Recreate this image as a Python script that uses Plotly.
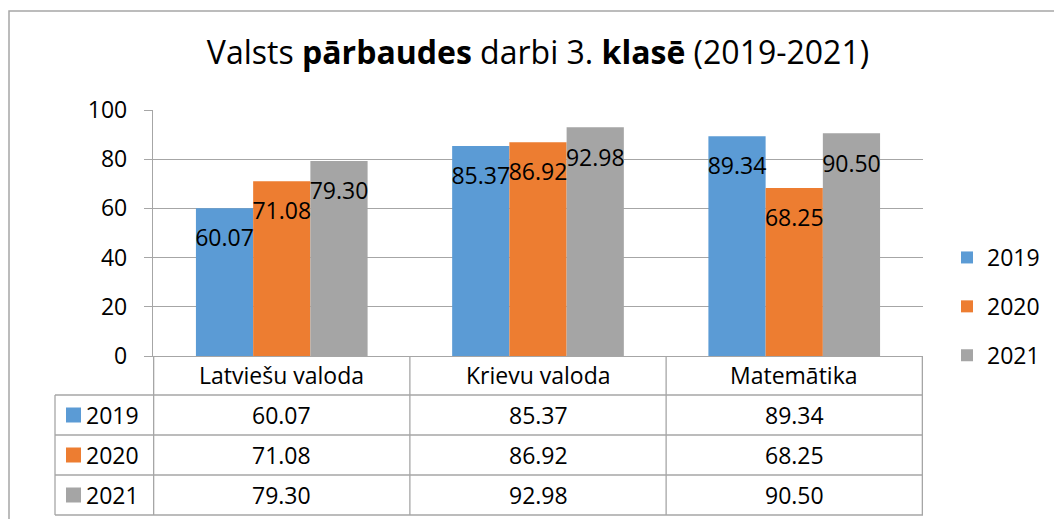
import plotly.graph_objects as go

# ---- data ----
categories = ["Latviešu valoda", "Krievu valoda", "Matemātika"]
years = ["2019", "2020", "2021"]
values_2019 = [60.07, 85.37, 89.34]
values_2020 = [71.08, 86.92, 68.25]
values_2021 = [79.30, 92.98, 90.50]
series = [values_2019, values_2020, values_2021]
colors = ["#5B9BD5", "#ED7D31", "#A5A5A5"]
y_ticks = [0, 20, 40, 60, 80, 100]

FONT = "Open Sans"
W, H = 1054, 519
L, R, T, B = 153, 131, 110, 163
PW = W - L - R
PH = H - T - B
GRID = "#A6A6A6"


def px_x(p):
    return (p - L) / PW


def px_y(p):
    return (T + PH - p) / PH


fig = go.Figure()
for i, (yr, vals, col) in enumerate(zip(years, series, colors)):
    fig.add_trace(go.Bar(
        x=categories, y=vals, name=yr, marker=dict(color=col, line=dict(width=0)),
        offsetgroup=str(i), legendgroup=yr, hoverinfo="skip",
    ))
for i, (yr, vals) in enumerate(zip(years, series)):
    fig.add_trace(go.Scatter(
        x=categories, y=vals, mode="markers+text", offsetgroup=str(i),
        text=[f"{v:.2f}" for v in vals], textposition="bottom center",
        textfont=dict(family=FONT, size=23, color="#000000"),
        marker=dict(size=32, opacity=0), showlegend=False, hoverinfo="skip",
        cliponaxis=False,
    ))

shapes = []
annotations = []
# outer frame
shapes.append(dict(type="rect", xref="paper", yref="paper",
                   x0=px_x(9), x1=px_x(1070), y0=px_y(11), y1=px_y(540),
                   line=dict(color=GRID, width=1.5), layer="below"))

# data table
axis_bottom = T + PH
header_bottom = axis_bottom + 39
row_h = 40
rows_bottom = [header_bottom + row_h * (k + 1) for k in range(len(years))]
table_left = 55
# horizontal lines
for yy in [header_bottom] + rows_bottom:
    shapes.append(dict(type="line", xref="paper", yref="paper",
                       x0=px_x(table_left), x1=1.0, y0=px_y(yy), y1=px_y(yy),
                       line=dict(color=GRID, width=1.3)))
# vertical lines
shapes.append(dict(type="line", xref="paper", yref="paper",
                   x0=px_x(table_left), x1=px_x(table_left),
                   y0=px_y(header_bottom), y1=px_y(rows_bottom[-1]),
                   line=dict(color=GRID, width=1.3)))
for b in [k - 0.5 for k in range(len(categories) + 1)]:
    shapes.append(dict(type="line", xref="x", yref="paper", x0=b, x1=b,
                       y0=0, y1=px_y(rows_bottom[-1]),
                       line=dict(color=GRID, width=1.3)))

# table rows
for r, (yr, vals, col) in enumerate(zip(years, series, colors)):
    cy = rows_bottom[r] - row_h / 2
    shapes.append(dict(type="rect", xref="paper", yref="paper",
                       x0=px_x(66), x1=px_x(81), y0=px_y(cy - 7.5), y1=px_y(cy + 7.5),
                       fillcolor=col, line=dict(width=0)))
    annotations.append(dict(text=yr, xref="paper", yref="paper", x=px_x(84), y=px_y(cy),
                            xanchor="left", yanchor="middle", showarrow=False,
                            font=dict(family=FONT, size=23, color="#000000")))
    for c, v in enumerate(vals):
        annotations.append(dict(text=f"{v:.2f}", xref="x", yref="paper", x=categories[c],
                                y=px_y(cy), xanchor="center", yanchor="middle", showarrow=False,
                                font=dict(family=FONT, size=23, color="#000000")))
# header row
for c, cat in enumerate(categories):
    annotations.append(dict(text=cat, xref="x", yref="paper", x=cat,
                            y=px_y(axis_bottom + 19), xanchor="center", yanchor="middle",
                            showarrow=False, font=dict(family=FONT, size=23, color="#000000")))

fig.update_layout(
    width=W, height=H,
    margin=dict(l=L, r=R, t=T, b=B, pad=0, autoexpand=False),
    paper_bgcolor="white", plot_bgcolor="white",
    font=dict(family=FONT, size=23, color="#000000"),
    title=dict(text="Valsts <b>pārbaudes</b> darbi 3. <b>klasē</b> (2019-2021)",
               x=0.5, xref="paper", xanchor="center", y=1 - 53 / H, yanchor="middle",
               font=dict(family=FONT, size=32, color="#000000")),
    barmode="group", bargap=0.33, bargroupgap=0,
    scattermode="group", scattergap=0.33,
    xaxis=dict(showticklabels=False, ticks="", showgrid=False, showline=True,
               linecolor=GRID, linewidth=1.3, zeroline=False, fixedrange=True),
    yaxis=dict(range=[0, 100], tickvals=y_ticks, showgrid=True, gridcolor=GRID, gridwidth=1.3,
               showline=True, linecolor=GRID, linewidth=1.3, ticks="outside", ticklen=8,
               tickcolor=GRID, tickwidth=1.3, zeroline=False, ticklabelstandoff=12,
               tickfont=dict(family=FONT, size=23, color="#000000"), fixedrange=True),
    legend=dict(x=px_x(947), xanchor="left", y=px_y(236), yanchor="top",
                font=dict(family=FONT, size=23, color="#000000"),
                tracegroupgap=16, bgcolor="rgba(0,0,0,0)"),
    shapes=shapes, annotations=annotations,
    showlegend=True,
)

fig.write_html("out.html", post_script="document.body.style.margin='0px';",
               config={"displayModeBar": False})
